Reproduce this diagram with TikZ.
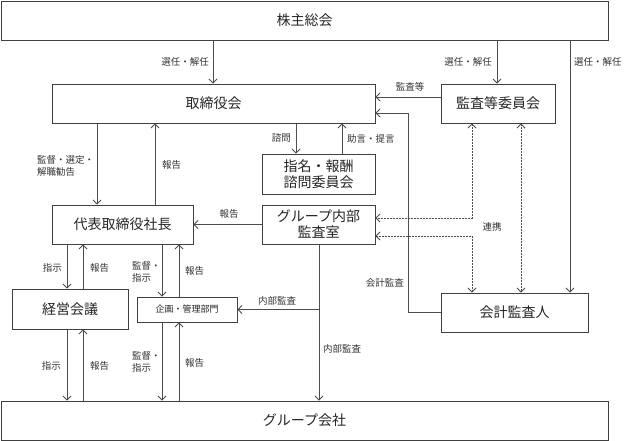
\documentclass[tikz,border=0pt]{standalone}
\usepackage{fontspec}
\setmainfont{Noto Sans CJK JP}
\usetikzlibrary{arrows.meta}
\begin{document}
\begin{tikzpicture}[x=1pt,y=-1pt,
  box/.style={draw=black!75,line width=0.9pt,inner sep=0pt,font=\fontsize{14}{16}\selectfont,text=black!85,align=center},
  lbl/.style={font=\fontsize{9.5}{12}\selectfont,text=black!80,inner sep=0pt,align=left},
  ln/.style={draw=black!70,line width=0.8pt},
  arr/.style={ln,-{Straight Barb[length=4pt,width=8pt]}},
  darr/.style={ln,dash pattern=on 2pt off 1pt,{Straight Barb[length=4pt,width=8pt]}-{Straight Barb[length=4pt,width=8pt]}}
]
\useasboundingbox[fill=white] (0,0) rectangle (624,441);

% boxes
\node[box,minimum width=607pt,minimum height=39pt] (kabu) at (304.5,20.5) {株主総会};
\node[box,minimum width=323pt,minimum height=39pt] (tori) at (213.5,103.5) {取締役会};
\node[box,minimum width=114pt,minimum height=39pt] (kansa) at (498,103.5) {監査等委員会};
\node[box,minimum width=113pt,minimum height=40pt] (shimei) at (318.5,174) {指名・報酬\\諮問委員会};
\node[box,minimum width=141pt,minimum height=39pt] (daihyo) at (122.5,224.5) {代表取締役社長};
\node[box,minimum width=113pt,minimum height=39pt] (group) at (318.5,224.5) {グループ内部\\監査室};
\node[box,minimum width=116pt,minimum height=40pt] (keiei) at (70,309) {経営会議};
\node[box,minimum width=100pt,minimum height=25pt,font=\fontsize{9}{11}\selectfont] (kikaku) at (187,309.5) {企画・管理部門};
\node[box,minimum width=147pt,minimum height=39pt] (kaikei) at (514.5,312.5) {会計監査人};
\node[box,minimum width=607pt,minimum height=39pt] (groupco) at (304.5,420.5) {グループ会社};

% column / row helpers
\coordinate (xa) at (67,0);
\coordinate (xb) at (83,0);
\coordinate (xc) at (97,0);
\coordinate (xd) at (155,0);
\coordinate (xe) at (162,0);
\coordinate (xf) at (179,0);
\coordinate (xg) at (213,0);
\coordinate (xh) at (296,0);
\coordinate (xi) at (319,0);
\coordinate (xj) at (342,0);
\coordinate (xk) at (408,0);
\coordinate (xl) at (472,0);
\coordinate (xm) at (497,0);
\coordinate (xn) at (521,0);
\coordinate (xo) at (570,0);
\coordinate (y97) at (0,97);
\coordinate (y113) at (0,113);
\coordinate (y218) at (0,218);
\coordinate (y236) at (0,236);

% from shareholders
\draw[arr] (kabu.south -| xg) -- (tori.north -| xg);
\node[lbl,anchor=east] at (209,62) {選任・解任};
\draw[arr] (kabu.south -| xm) -- (kansa.north -| xm);
\node[lbl,anchor=east] at (492,62) {選任・解任};
\draw[arr] (kabu.south -| xo) -- (kaikei.north -| xo);
\node[lbl,anchor=west] at (574,62) {選任・解任};

% audit committee -> board
\draw[arr] (kansa.west |- y97) -- (tori.east |- y97);
\node[lbl] at (410,87) {監査等};
% accounting auditor -> board
\draw[arr] (kaikei.west) -| (xk |- y113) -- (tori.east |- y113);
\node[lbl,anchor=east] at (404,283) {会計監査};

% board <-> president
\draw[arr] (tori.south -| xc) -- (daihyo.north -| xc);
\node[lbl,anchor=west] at (37,165.5) {監督・選定・\\解職勧告};
\draw[arr] (daihyo.north -| xd) -- (tori.south -| xd);
\node[lbl,anchor=west] at (162,165) {報告};

% board <-> nomination committee
\draw[arr] (tori.south -| xh) -- (shimei.north -| xh);
\node[lbl,anchor=east] at (291,138) {諮問};
\draw[arr] (shimei.north -| xj) -- (tori.south -| xj);
\node[lbl,anchor=west] at (347,139) {助言・提言};

% internal audit -> president
\draw[arr] (group.west) -- (daihyo.east);
\node[lbl] at (229,214) {報告};

% cooperation (dashed)
\draw[darr] (kansa.south -| xl) |- (group.east |- y218);
\draw[darr] (group.east |- y236) -| (kaikei.north -| xl);
\draw[darr] (kansa.south -| xn) -- (kaikei.north -| xn);
\node[lbl] at (492,227) {連携};

% president <-> management meeting / planning
\draw[arr] (daihyo.south -| xa) -- (keiei.north -| xa);
\node[lbl,anchor=east] at (62,268) {指示};
\draw[arr] (keiei.north -| xb) -- (daihyo.south -| xb);
\node[lbl,anchor=west] at (90,268) {報告};
\draw[arr] (daihyo.south -| xe) -- (kikaku.north -| xe);
\node[lbl,anchor=west] at (132,271.5) {監督・\\指示};
\draw[arr] (kikaku.north -| xf) -- (daihyo.south -| xf);
\node[lbl,anchor=west] at (185,271) {報告};

% internal audit -> group companies / planning
\draw[arr] (group.south -| xi) -- (groupco.north -| xi);
\node[lbl,anchor=west] at (323,349) {内部監査};
\coordinate (br) at (xi |- kikaku.east);
\draw[arr] (br) -- (kikaku.east);
\node[lbl] at (277,301) {内部監査};

% to group companies
\draw[arr] (keiei.south -| xa) -- (groupco.north -| xa);
\node[lbl,anchor=east] at (61,366) {指示};
\draw[arr] (groupco.north -| xb) -- (keiei.south -| xb);
\node[lbl,anchor=west] at (90,366) {報告};
\draw[arr] (kikaku.south -| xe) -- (groupco.north -| xe);
\node[lbl,anchor=west] at (132,362) {監督・\\指示};
\draw[arr] (groupco.north -| xf) -- (kikaku.south -| xf);
\node[lbl,anchor=west] at (185,363) {報告};
\end{tikzpicture}
\end{document}
